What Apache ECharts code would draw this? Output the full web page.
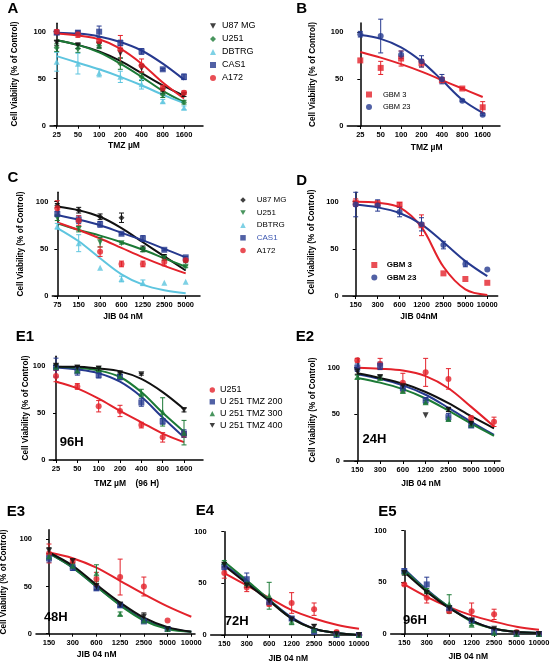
<!DOCTYPE html>
<html><head><meta charset="utf-8">
<script src="https://cdn.jsdelivr.net/npm/echarts@6/dist/echarts.min.js"></script>
<style>html,body{margin:0;padding:0;background:#fff}#c{width:550px;height:661px}</style>
</head><body><div id="c"></div>
<script>
// ---------- tick labels ----------
const TMZ_TICKS = ['25','50','100','200','400','800','1600'];
const C_TICKS = ['75','150','300','600','1250','2500','5000'];
const D_TICKS = ['150','300','600','1200','2500','5000','10000'];
const E_TICKS = ['150','300','600','1200','2500','5000','10000'];
const E3_TICKS = ['150','300','600','1250','2500','5000','10000'];

// ---------- Panel A (TMZ µM) ----------
const A_U87_pts = [88, 85, 86, 77, 61, 37, 33];
const A_U87_err = [3, 3, 3, 5, 4, 3, 2];
const A_U87_fit = [91, 86, 79, 69, 56, 43, 32];
const A_U251_pts = [83, 82, 85, 66, 52, 33, 25];
const A_U251_err = [4, 4, 3, 6, 4, 3, 2];
const A_U251_fit = [91, 86, 78, 66, 52, 37, 25];
const A_DBTRG_pts = [68, 66, 56, 52, 44, 26, 19];
const A_DBTRG_err = [10, 11, 4, 6, 5, 2, 2];
const A_DBTRG_fit = [74, 67, 60, 52, 43, 33, 24];
const A_CAS1_pts = [99, 99, 100, 88, 79, 60, 52];
const A_CAS1_err = [2, 2, 6, 3, 3, 1, 3];
const A_CAS1_fit = [99, 98, 95, 89, 80, 66, 49];
const A_A172_pts = [100, 97, 90, 81, 64, 40, 35];
const A_A172_err = [2, 3, 2, 15, 7, 3, 2];
const A_A172_fit = [98, 96, 92, 82, 66, 46, 29];

// ---------- Panel B (TMZ µM) ----------
const B_GBM3_pts = [70, 62, 72, 67, 49, 40, 20];
const B_GBM3_err = [0, 7, 8, 4, 3, 1, 6];
const B_GBM3_fit = [79, 73, 66, 58, 49, 40, 31];
const B_GBM23_pts = [98, 96, 76, 69, 50, 27, 12];
const B_GBM23_err = [3, 18, 4, 6, 5, 1, 1];
const B_GBM23_fit = [97, 93, 84, 69, 49, 28, 14];

// ---------- Panel C (JIB 04 nM) ----------
const C_U87_pts = [96, 91, 84, 83, 50, 41, 37];
const C_U87_err = [2, 3, 3, 5, 3, 3, 1];
const C_U87_fit = [95, 91, 84, 72, 57, 42, 27];
const C_U251_pts = [83, 71, 57, 56, 49, 40, 31];
const C_U251_err = [3, 3, 5, 1, 2, 2, 1];
const C_U251_fit = [77, 70, 64, 57, 49, 40, 31];
const C_DBTRG_pts = [74, 56, 30, 18, 14, 14, 15];
const C_DBTRG_err = [3, 9, 0, 3, 3, 0, 0];
const C_DBTRG_fit = [72, 58, 40, 23, 12, 6, 3];
const C_CAS1_pts = [87, 81, 76, 66, 61, 49, 41];
const C_CAS1_err = [3, 4, 3, 1, 3, 1, 1];
const C_CAS1_fit = [86, 81, 75, 67, 59, 50, 41];
const C_A172_pts = [93, 80, 47, 34, 34, 36, 38];
const C_A172_err = [8, 5, 5, 3, 3, 4, 0];
const C_A172_fit = [78, 70, 61, 51, 41, 32, 24];

// ---------- Panel D (JIB 04 nM) ----------
const D_GBM3_pts = [99, 98, 97, 75, 24, 18, 14];
const D_GBM3_err = [4, 3, 2, 11, 0, 0, 0];
const D_GBM3_fit = [100, 99, 94, 73, 31, 7, 1];
const D_GBM23_pts = [97, 96, 89, 76, 54, 34, 28];
const D_GBM23_err = [13, 6, 5, 7, 4, 3, 0];
const D_GBM23_fit = [97, 94, 88, 76, 57, 37, 21];

// ---------- Panel E1 (TMZ, 96 H) ----------
const E1_U251_pts = [89, 78, 57, 52, 37, 24, 27];
const E1_U251_err = [6, 3, 6, 6, 3, 5, 3];
const E1_U251_fit = [83, 76, 65, 52, 40, 28, 19];
const E1_T200_pts = [98, 94, 90, 88, 61, 41, 28];
const E1_T200_err = [10, 4, 3, 3, 4, 3, 4];
const E1_T200_fit = [98, 96, 92, 83, 67, 45, 24];
const E1_T300_pts = [99, 95, 96, 89, 71, 51, 29];
const E1_T300_err = [2, 2, 2, 2, 4, 15, 13];
const E1_T300_fit = [99, 98, 95, 88, 72, 50, 30];
const E1_T400_pts = [100, 98, 97, 92, 91, null, 53];
const E1_T400_err = [2, 2, 2, 1, 1, 0, 2];
const E1_T400_fit = [99, 99, 97, 94, 86, 72, 54];

// ---------- Panel E2 (24H) ----------
const E2_U251_pts = [108, 104, 84, 95, 88, 46, 42];
const E2_U251_err = [2, 6, 10, 15, 11, 2, 5];
const E2_U251_fit = [100, 99, 97, 91, 78, 58, 37];
const E2_T200_pts = [100, 102, 78, 65, 47, 38, null];
const E2_T200_err = [4, 4, 3, 3, 4, 2, 0];
const E2_T200_fit = [93, 88, 81, 71, 57, 42, 28];
const E2_T300_pts = [90, 89, 75, 63, 45, 39, null];
const E2_T300_err = [2, 2, 2, 2, 2, 2, 0];
const E2_T300_fit = [89, 84, 77, 67, 54, 40, 27];
const E2_T400_pts = [96, 90, 80, 49, 55, 40, null];
const E2_T400_err = [3, 2, 2, 0, 2, 2, 0];
const E2_T400_fit = [94, 89, 83, 74, 62, 48, 35];

// ---------- Panel E3 (48H) ----------
const E3_U251_pts = [85, 77, 58, 60, 50, 14, null];
const E3_U251_err = [10, 2, 7, 19, 10, 0, 0];
const E3_U251_fit = [86, 80, 70, 56, 42, 29, 18];
const E3_T200_pts = [80, 70, 48, 30, 13, 5, null];
const E3_T200_err = [4, 3, 2, 2, 1, 0, 0];
const E3_T200_fit = [85, 70, 50, 31, 15, 6, 2];
const E3_T300_pts = [82, 72, 64, 21, 14, 5, null];
const E3_T300_err = [3, 2, 9, 2, 1, 0, 0];
const E3_T300_fit = [85, 70, 50, 30, 14, 5, 2];
const E3_T400_pts = [88, 77, 50, 31, 18, 5, null];
const E3_T400_err = [3, 2, 3, 2, 4, 0, 0];
const E3_T400_fit = [86, 72, 52, 33, 17, 7, 2];

// ---------- Panel E4 (72H) ----------
const E4_U251_pts = [60, 46, 30, 31, 25, 3, 0];
const E4_U251_err = [5, 4, 2, 10, 6, 1, 1];
const E4_U251_fit = [60, 48, 36, 24, 16, 10, 6];
const E4_T200_pts = [66, 54, 32, 16, 3, 0, 0];
const E4_T200_err = [3, 6, 3, 1, 1, 0, 0];
const E4_T200_fit = [68, 52, 34, 17, 6, 2, 0];
const E4_T300_pts = [71, 50, 38, 13, 5, 1, 0];
const E4_T300_err = [1, 2, 13, 3, 1, 0, 0];
const E4_T300_fit = [71, 53, 34, 16, 6, 2, 0];
const E4_T400_pts = [68, 48, 33, 15, 8, 1, 0];
const E4_T400_err = [2, 2, 2, 1, 2, 0, 0];
const E4_T400_fit = [67, 50, 33, 16, 6, 2, 0];

// ---------- Panel E5 (96H) ----------
const E5_U251_pts = [48, 35, 22, 22, 19, 2, 0];
const E5_U251_err = [1, 5, 1, 8, 5, 0, 0];
const E5_U251_fit = [48, 36, 26, 18, 12, 7, 4];
const E5_T200_pts = [61, 48, 25, 13, 2, 0, 0];
const E5_T200_err = [2, 7, 2, 1, 0, 0, 0];
const E5_T200_fit = [63, 43, 26, 13, 5, 2, 1];
const E5_T300_pts = [60, 42, 29, 9, 1, 0, 0];
const E5_T300_err = [1, 2, 9, 1, 0, 0, 0];
const E5_T300_fit = [62, 42, 26, 12, 5, 2, 1];
const E5_T400_pts = [59, 40, 25, 13, 5, 1, 0];
const E5_T400_err = [2, 1, 1, 1, 1, 0, 0];
const E5_T400_fit = [60, 41, 25, 13, 5, 2, 1];

// ---------- styles ----------
const RED = '#e3222b', BLUE = '#26398f', GREEN = '#1c7a36', LBLUE = '#5ec5df', BLACK = '#111';
const INV_TRI = 'path://M0,0L10,0L5,9Z';
const FONT = 'Liberation Sans, Arial, Helvetica, sans-serif';

// pixel layout of each panel
const LAYOUT = {
  A:  {left:50,    end:203,   first:56.7,  last:184,   zero:125.7, y100:31.7,  ymax:109},
  B:  {left:347.3, end:500,   first:360.3, last:482.7, zero:126,   y100:32.3,  ymax:110},
  C:  {left:52.3,  end:200,   first:57.3,  last:185.7, zero:296,   y100:201.7, ymax:110},
  D:  {left:342.7, end:497.7, first:355.7, last:487.3, zero:296,   y100:201.7, ymax:110},
  E1: {left:49.3,  end:203,   first:56,    last:184,   zero:460,   y100:365.7, ymax:110},
  E2: {left:344,   end:500,   first:357.3, last:494,   zero:461,   y100:367.7, ymax:110},
  E3: {left:36,    end:195,   first:49,    last:191.3, zero:633.7, y100:539.3, ymax:110},
  E4: {left:210.7, end:361.7, first:224.3, last:359,   zero:635,   y100:531.7, ymax:100},
  E5: {left:390.7, end:541,   first:404.3, last:539,   zero:634,   y100:530.7, ymax:100}
};

function E_SERIES(u, t2, t3, t4) {
  return [
    {label:'U251', color:RED, symbol:'circle', pts:u[0], err:u[1], fit:u[2]},
    {label:'U 251 TMZ 200', color:BLUE, symbol:'rect', pts:t2[0], err:t2[1], fit:t2[2]},
    {label:'U 251 TMZ 300', color:GREEN, symbol:'triangle', pts:t3[0], err:t3[1], fit:t3[2]},
    {label:'U 251 TMZ 400', color:BLACK, symbol:INV_TRI, pts:t4[0], err:t4[1], fit:t4[2]}
  ];
}

const PANELS = [
  {id:'A', ticks:TMZ_TICKS, series:[
    {label:'U87 MG', color:BLACK, symbol:INV_TRI, pts:A_U87_pts, err:A_U87_err, fit:A_U87_fit},
    {label:'U251', color:GREEN, symbol:'diamond', pts:A_U251_pts, err:A_U251_err, fit:A_U251_fit},
    {label:'DBTRG', color:LBLUE, symbol:'triangle', pts:A_DBTRG_pts, err:A_DBTRG_err, fit:A_DBTRG_fit},
    {label:'CAS1', color:BLUE, symbol:'rect', pts:A_CAS1_pts, err:A_CAS1_err, fit:A_CAS1_fit},
    {label:'A172', color:RED, symbol:'circle', pts:A_A172_pts, err:A_A172_err, fit:A_A172_fit}],
   legend:{markerX:213, textX:222, top:21.5, gap:4.0, size:6, font:9, weight:'normal'}},
  {id:'B', ticks:TMZ_TICKS, series:[
    {label:'GBM 3', color:RED, symbol:'rect', pts:B_GBM3_pts, err:B_GBM3_err, fit:B_GBM3_fit},
    {label:'GBM 23', color:BLUE, symbol:'circle', pts:B_GBM23_pts, err:B_GBM23_err, fit:B_GBM23_fit}],
   legend:{markerX:369, textX:383, top:90.5, gap:4.5, size:6, font:7.5, weight:'normal'}},
  {id:'C', ticks:C_TICKS, series:[
    {label:'U87 MG', color:BLACK, symbol:'diamond', pts:C_U87_pts, err:C_U87_err, fit:C_U87_fit},
    {label:'U251', color:GREEN, symbol:INV_TRI, pts:C_U251_pts, err:C_U251_err, fit:C_U251_fit},
    {label:'DBTRG', color:LBLUE, symbol:'triangle', pts:C_DBTRG_pts, err:C_DBTRG_err, fit:C_DBTRG_fit},
    {label:'CAS1', color:BLUE, symbol:'rect', pts:C_CAS1_pts, err:C_CAS1_err, fit:C_CAS1_fit, textColor:'#3a55b0'},
    {label:'A172', color:RED, symbol:'circle', pts:C_A172_pts, err:C_A172_err, fit:C_A172_fit}],
   legend:{markerX:243, textX:256.7, top:196, gap:4.6, size:5.5, font:8, weight:'normal', family:'Liberation Sans Narrow, Arial Narrow, ' + FONT}},
  {id:'D', ticks:D_TICKS, series:[
    {label:'GBM 3', color:RED, symbol:'rect', pts:D_GBM3_pts, err:D_GBM3_err, fit:D_GBM3_fit},
    {label:'GBM 23', color:BLUE, symbol:'circle', pts:D_GBM23_pts, err:D_GBM23_err, fit:D_GBM23_fit}],
   legend:{markerX:374.3, textX:386.7, top:261, gap:4.4, size:6, font:8, weight:'bold'}},
  {id:'E1', ticks:TMZ_TICKS, series:E_SERIES([E1_U251_pts, E1_U251_err, E1_U251_fit], [E1_T200_pts, E1_T200_err, E1_T200_fit], [E1_T300_pts, E1_T300_err, E1_T300_fit], [E1_T400_pts, E1_T400_err, E1_T400_fit]),
   legend:{markerX:212.3, textX:220, top:385.5, gap:2.8, size:5.4, font:9, weight:'normal'}},
  {id:'E2', ticks:E_TICKS, series:E_SERIES([E2_U251_pts, E2_U251_err, E2_U251_fit], [E2_T200_pts, E2_T200_err, E2_T200_fit], [E2_T300_pts, E2_T300_err, E2_T300_fit], [E2_T400_pts, E2_T400_err, E2_T400_fit])},
  {id:'E3', ticks:E3_TICKS, series:E_SERIES([E3_U251_pts, E3_U251_err, E3_U251_fit], [E3_T200_pts, E3_T200_err, E3_T200_fit], [E3_T300_pts, E3_T300_err, E3_T300_fit], [E3_T400_pts, E3_T400_err, E3_T400_fit])},
  {id:'E4', ticks:E_TICKS, series:E_SERIES([E4_U251_pts, E4_U251_err, E4_U251_fit], [E4_T200_pts, E4_T200_err, E4_T200_fit], [E4_T300_pts, E4_T300_err, E4_T300_fit], [E4_T400_pts, E4_T400_err, E4_T400_fit])},
  {id:'E5', ticks:E_TICKS, series:E_SERIES([E5_U251_pts, E5_U251_err, E5_U251_fit], [E5_T200_pts, E5_T200_err, E5_T200_fit], [E5_T300_pts, E5_T300_err, E5_T300_fit], [E5_T400_pts, E5_T400_err, E5_T400_fit])}
];

const grids = [], xAxes = [], yAxes = [], series = [], legends = [];

PANELS.forEach((P, i) => {
  const L = LAYOUT[P.id];
  const ppu = (L.zero - L.y100) / 100;
  const ppi = (L.last - L.first) / (P.ticks.length - 1);
  grids.push({left:L.left, top:L.zero - L.ymax * ppu, width:L.end - L.left, height:L.ymax * ppu, outerBoundsMode:'none', containLabel:false});
  const idx = P.ticks.map((t, k) => k);
  xAxes.push({type:'value', gridIndex:i, min:-(L.first - L.left) / ppi, max:(L.end - L.first) / ppi,
    axisLine:{show:true, onZero:false, lineStyle:{color:'#000', width:1.5}},
    axisTick:{show:true, length:3, customValues:idx, lineStyle:{color:'#000', width:1}},
    axisLabel:{customValues:idx, formatter:(v) => P.ticks[Math.round(v)], fontSize:7.5, fontWeight:'bold', color:'#000', margin:5, fontFamily:FONT},
    splitLine:{show:false}});
  yAxes.push({type:'value', gridIndex:i, min:0, max:L.ymax,
    axisLine:{show:true, lineStyle:{color:'#000', width:1.5}},
    axisTick:{show:true, length:3, customValues:[0,50,100], lineStyle:{color:'#000', width:1}},
    axisLabel:{customValues:[0,50,100], fontSize:7.5, fontWeight:'bold', color:'#000', margin:4, fontFamily:FONT},
    splitLine:{show:false}});

  P.series.forEach((s) => {
    const nm = P.id + ':' + s.label;
    series.push({type:'line', name:nm + ' fit', xAxisIndex:i, yAxisIndex:i, smooth:0.35,
      showSymbol:false, symbol:'none', silent:true, z:2,
      lineStyle:{color:s.color, width:2}, data:s.fit.map((v, k) => [k, v])});
    const eData = [];
    s.pts.forEach((v, k) => { if (v != null && s.err[k] > 0) eData.push([k, v - s.err[k], v + s.err[k]]); });
    series.push({type:'custom', name:nm + ' err', xAxisIndex:i, yAxisIndex:i, silent:true, z:3,
      encode:{x:0, y:[1, 2]}, data:eData,
      renderItem:(params, api) => {
        const x = api.value(0), lo = api.value(1), hi = api.value(2);
        const a = api.coord([x, hi]), b = api.coord([x, lo]);
        const cw = 2.5, st = {stroke:s.color, lineWidth:1};
        return {type:'group', children:[
          {type:'line', shape:{x1:a[0], y1:a[1], x2:b[0], y2:b[1]}, style:st},
          {type:'line', shape:{x1:a[0] - cw, y1:a[1], x2:a[0] + cw, y2:a[1]}, style:st},
          {type:'line', shape:{x1:b[0] - cw, y1:b[1], x2:b[0] + cw, y2:b[1]}, style:st}]};
      }});
    const pData = [];
    s.pts.forEach((v, k) => { if (v != null) pData.push([k, v]); });
    series.push({type:'scatter', name:nm, xAxisIndex:i, yAxisIndex:i, symbol:s.symbol, symbolSize:6, z:4,
      itemStyle:{color:s.color}, data:pData});
  });

  if (P.legend) {
    const G = P.legend;
    const pad = G.textX - (G.markerX + G.size / 2 + 5);
    legends.push({orient:'vertical', left:G.markerX - G.size / 2, top:G.top, itemWidth:G.size, itemHeight:G.size,
      itemGap:G.gap, padding:0, selectedMode:false,
      formatter:(n) => n.split(':')[1],
      textStyle:{fontSize:G.font, fontWeight:G.weight, color:'#000', fontFamily:G.family || FONT, padding:[0, 0, 0, Math.max(0, pad)]},
      data:P.series.map((s) => ({name:P.id + ':' + s.label, icon:s.symbol, itemStyle:{color:s.color},
        textStyle:{color:s.textColor || '#000'}}))});
  }
});

const YT = 'Cell Viability (% of Control)';
const texts = [
  ['A', 13, 8.5, 15], ['B', 301.7, 8.5, 15], ['C', 13, 178, 15], ['D', 301.7, 180.7, 15],
  ['E1', 25, 336.7, 15], ['E2', 305, 336.7, 15], ['E3', 16, 512.3, 15], ['E4', 205, 510.7, 15], ['E5', 387.3, 511.7, 15],
  ['96H', 71.7, 442.7, 13], ['24H', 374.5, 439, 13], ['48H', 55.8, 617.3, 13], ['72H', 236.7, 621.7, 13], ['96H', 415, 620, 13],
  ['TMZ µM', 124, 145.7, 8.5], ['TMZ µM', 426.7, 148, 8.5], ['JIB 04 nM', 123, 317, 8.5], ['JIB 04nM', 419, 317, 8.5],
  ['TMZ µM    (96 H)', 126.7, 483.3, 8.5], ['JIB 04 nM', 421, 484, 8.5], ['JIB 04 nM', 96.7, 654.3, 8.5],
  ['JIB 04 nM', 288.3, 658.3, 8.5], ['JIB 04 nM', 468.3, 656.7, 8.5]
];
const yTitles = [[14.5, 74], [313, 74.5], [20.7, 244], [311.7, 242], [25.7, 408], [312.7, 410], [4, 582]];
const graphic = texts.map(([t, x, y, fs]) => ({type:'text', x, y, silent:true,
  style:{text:t, fontSize:fs, fontWeight:'bold', fill:'#000', fontFamily:FONT, textAlign:'center', textVerticalAlign:'middle'}}))
  .concat(yTitles.map(([x, y]) => ({type:'text', x, y, rotation:Math.PI / 2, silent:true,
  style:{text:YT, fontSize:8.2, fontWeight:'bold', fill:'#000', fontFamily:FONT, textAlign:'center', textVerticalAlign:'middle'}})));

const chart = echarts.init(document.getElementById('c'), null, {renderer:'canvas'});
chart.setOption({
  animation:false, backgroundColor:'#fff',
  grid:grids, xAxis:xAxes, yAxis:yAxes, series, legend:legends, graphic
});
</script></body></html>
